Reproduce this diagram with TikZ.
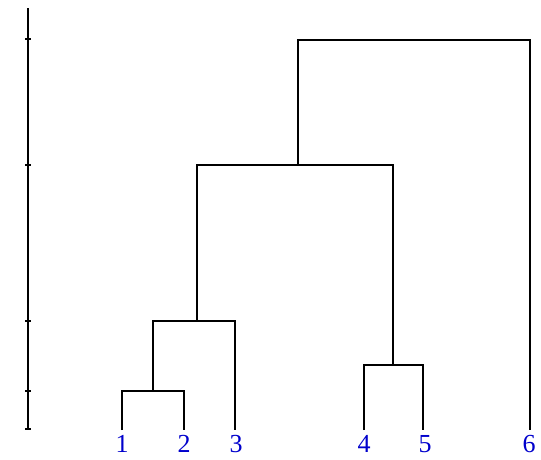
\documentclass[tikz,border=0pt]{standalone}
\usepackage{fontspec}
\setmainfont{Liberation Serif}
\begin{document}
\begin{tikzpicture}[x=1pt,y=-1pt,
  link/.style={line width=1.6pt,black},
  axisline/.style={line width=1.8pt,black},
  tick/.style={line width=2pt,black},
  leaflabel/.style={text=blue!80!black,font=\fontsize{26}{28}\selectfont,inner sep=0pt,anchor=base}]
\useasboundingbox (0,0) rectangle (541,459);
% axis
\coordinate (atop) at (28,8);
\coordinate (abot) at (28,429);
\draw[axisline] (atop) -- (abot);
\foreach \ty in {39,165,321,391,429}{
  \coordinate (tl) at (25,\ty); \coordinate (tr) at (31,\ty);
  \draw[tick] (tl) -- (tr);
}
% leaves
\coordinate (l1) at (122,430);
\coordinate (l2) at (184,430);
\coordinate (l3) at (235,430);
\coordinate (l4) at (364,430);
\coordinate (l5) at (423,430);
\coordinate (l6) at (530,430);
% merges
\coordinate (m12) at (153,391);
\coordinate (m123) at (197,321);
\coordinate (m45) at (393,365);
\coordinate (m12345) at (298,165);
\coordinate (mall) at (414,40);
\draw[link] (l1) |- (m12) -| (l2);
\draw[link] (m12) |- (m123) -| (l3);
\draw[link] (l4) |- (m45) -| (l5);
\draw[link] (m123) |- (m12345) -| (m45);
\draw[link] (m12345) |- (mall) -| (l6);
% labels
\node[leaflabel] (t1) at (122,452) {1};
\node[leaflabel] (t2) at (184,452) {2};
\node[leaflabel] (t3) at (236,452) {3};
\node[leaflabel] (t4) at (364,452) {4};
\node[leaflabel] (t5) at (425,452) {5};
\node[leaflabel] (t6) at (529,452) {6};
\end{tikzpicture}
\end{document}
